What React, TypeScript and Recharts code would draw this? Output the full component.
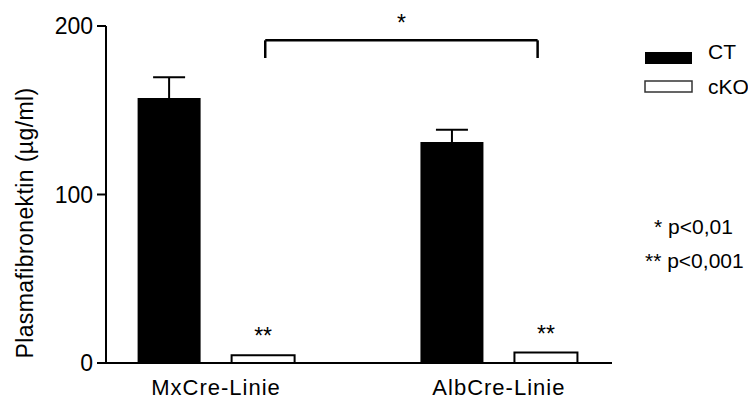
import { BarChart, Bar, XAxis, YAxis, ErrorBar, LabelList, ReferenceLine } from 'recharts';

const categories = ['MxCre-Linie', 'AlbCre-Linie'];
const ctValues = [157.3, 131.2];
const ctErrors = [12.3, 7.3];
const ckoValues = [4.6, 6.2];
const ckoMarks = ['**', '**'];
const yTicks = [0, 100, 200];
const categoryTicks = [0, 1];

// significance bracket between the two lines
const bracketStart = 0.174;
const bracketEnd = 1.137;
const bracketTop = 191.5;
const bracketFoot = 181;

const legendItems = [
  { label: 'CT', fill: '#000' },
  { label: 'cKO', fill: '#fff' },
];
const notes = ['* p<0,01', '** p<0,001'];

const FONT = '"Liberation Sans", Arial, Helvetica, sans-serif';

const rows = categories.map((name, i) => ({
  pos: i,
  name,
  ct: ctValues[i],
  ctErr: ctErrors[i],
  cko: ckoValues[i],
  mark: ckoMarks[i],
}));

const YTitle = () => (
  <text
    x={33}
    y={223}
    transform="rotate(-90 33 223)"
    textAnchor="middle"
    fontSize={23}
    letterSpacing={0.4}
    fontFamily={FONT}
    fill="#000"
  >
    Plasmafibronektin (µg/ml)
  </text>
);

export default function App() {
  return (
    <div style={{ position: 'relative', width: 756, height: 403, margin: -8, fontFamily: FONT }}>
      <BarChart
        width={756}
        height={403}
        data={rows}
        margin={{ top: 26, right: 144, left: 36, bottom: 0 }}
        barSize={63}
        barGap={31}
      >
        <XAxis
          dataKey="pos"
          type="number"
          domain={[-0.389, 1.4]}
          allowDataOverflow
          ticks={categoryTicks}
          tickFormatter={(v) => categories[Number(v)]}
          tickLine={false}
          tickSize={0}
          tickMargin={16}
          height={40}
          axisLine={{ stroke: '#000', strokeWidth: 2 }}
          tick={{ fill: '#000', fontSize: 22, fontFamily: FONT, letterSpacing: 1 }}
        />
        <YAxis
          type="number"
          domain={[0, 200]}
          ticks={yTicks}
          width={70}
          tickSize={9}
          tickMargin={4}
          axisLine={{ stroke: '#000', strokeWidth: 2 }}
          tickLine={{ stroke: '#000', strokeWidth: 2 }}
          tick={{ fill: '#000', fontSize: 23, fontFamily: FONT }}
          label={<YTitle />}
        />
        <Bar dataKey="ct" fill="#000" isAnimationActive={false}>
          <ErrorBar dataKey="ctErr" direction="y" width={16} stroke="#000" strokeWidth={2} />
        </Bar>
        <Bar dataKey="cko" fill="#fff" stroke="#000" strokeWidth={2} isAnimationActive={false}>
          <LabelList dataKey="mark" position="top" offset={11} fill="#000" fontSize={23} fontFamily={FONT} />
        </Bar>
        <ReferenceLine
          segment={[{ x: bracketStart, y: bracketTop }, { x: bracketEnd, y: bracketTop }]}
          stroke="#000"
          strokeWidth={2.5}
          label={{ value: '*', position: 'top', offset: 9, fill: '#000', fontSize: 23, fontFamily: FONT }}
        />
        <ReferenceLine
          segment={[{ x: bracketStart, y: bracketTop }, { x: bracketStart, y: bracketFoot }]}
          stroke="#000"
          strokeWidth={2.5}
        />
        <ReferenceLine
          segment={[{ x: bracketEnd, y: bracketTop }, { x: bracketEnd, y: bracketFoot }]}
          stroke="#000"
          strokeWidth={2.5}
        />
      </BarChart>
      <svg width={756} height={403} style={{ position: 'absolute', left: 0, top: 0, pointerEvents: 'none' }}>
        {legendItems.map((item, i) => (
          <g key={item.label}>
            <rect
              x={645}
              y={i === 0 ? 52 : 81}
              width={47}
              height={i === 0 ? 12 : 11}
              fill={item.fill}
              stroke={i === 0 ? 'none' : '#333'}
              strokeWidth={1.5}
            />
            <text x={708} y={i === 0 ? 59 : 94} fontSize={21} fontFamily={FONT} fill="#000">
              {item.label}
            </text>
          </g>
        ))}
        {notes.map((n, i) => (
          <text key={n} x={i === 0 ? 654 : 645} y={i === 0 ? 234 : 268} fontSize={21} fontFamily={FONT} fill="#000">
            {n}
          </text>
        ))}
      </svg>
    </div>
  );
}
